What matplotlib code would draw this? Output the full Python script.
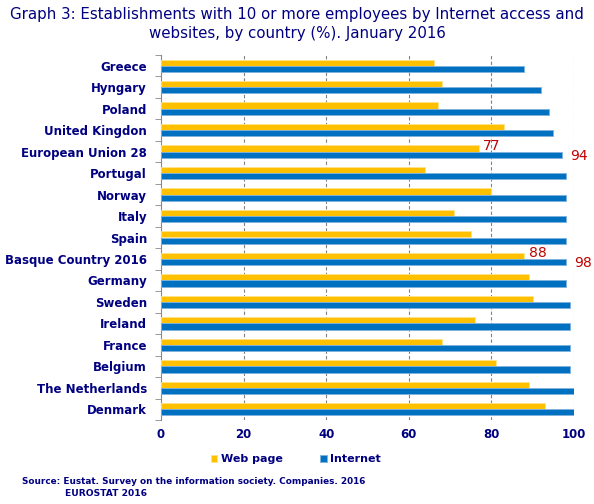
import matplotlib.pyplot as plt
import numpy as np

countries = ['Greece', 'Hyngary', 'Poland', 'United Kingdon', 'European Union 28',
             'Portugal', 'Norway', 'Italy', 'Spain', 'Basque Country 2016',
             'Germany', 'Sweden', 'Ireland', 'France', 'Belgium',
             'The Netherlands', 'Denmark']
web_page = [66, 68, 67, 83, 77, 64, 80, 71, 75, 88, 89, 90, 76, 68, 81, 89, 93]
internet = [88, 92, 94, 95, 97, 98, 98, 98, 98, 98, 98, 99, 99, 99, 99, 100, 100]
# value labels shown in the chart (text as printed)
highlights = {'European Union 28': ('77', '94'), 'Basque Country 2016': ('88', '98')}

navy = '#000080'
yellow = '#FFC000'
blue = '#0070C0'

fig = plt.figure(figsize=(5.94, 5.04), dpi=100)
ax = fig.add_axes([161 / 594, 1 - 420 / 504, (574 - 161) / 594, (420 - 55) / 504])

y = np.arange(len(countries))
h = 0.29
ax.barh(y - h / 2, web_page, height=h, color=yellow, edgecolor='#FFE38A', linewidth=0.6,
        label='Web page', zorder=3)
ax.barh(y + h / 2, internet, height=h, color=blue, edgecolor='#7FB2DD', linewidth=0.6,
        label='Internet', zorder=3)

for i, c in enumerate(countries):
    if c in highlights:
        w, n = highlights[c]
        ax.text(web_page[i] + 1, y[i] - h / 2 - 0.12, w, color='#C00000', fontsize=10,
                ha='left', va='center', zorder=4)
        ax.text(internet[i] + 2, y[i] + h / 2 + 0.05, n, color='#C00000', fontsize=10,
                ha='left', va='center', zorder=4, clip_on=False)

ax.set_xlim(0, 100)
ax.set_ylim(len(countries) - 0.5, -0.5)
ax.set_yticks(y)
ax.set_yticklabels(countries, fontsize=8.5, fontweight='bold', color=navy)
ax.set_yticks(np.arange(-0.5, len(countries)), minor=True)
ax.tick_params(axis='y', which='major', length=0, pad=10)
ax.tick_params(axis='y', which='minor', length=4, color='#888888')
ax.set_xticks([0, 20, 40, 60, 80, 100])
ax.set_xticklabels(['0', '20', '40', '60', '80', '100'], fontsize=8.5,
                   fontweight='bold', color=navy)
ax.tick_params(axis='x', length=0, pad=6)

for v in [20, 40, 60, 80]:
    ax.axvline(v, color='#808080', linestyle=(0, (3, 2)), linewidth=0.8, zorder=1)
ax.axvline(100, color='#C0C0C0', linestyle=(0, (3, 2)), linewidth=0.8, zorder=1)

for s in ['top', 'right', 'bottom']:
    ax.spines[s].set_visible(False)
ax.spines['left'].set_color('#888888')

fig.text(0.5, 1 - 24 / 504, 'Graph 3: Establishments with 10 or more employees by Internet access and\n'
         'websites, by country (%). January 2016', ha='center', va='center',
         fontsize=10.8, color=navy, linespacing=1.3)

fig.legend(loc='center', bbox_to_anchor=(296 / 594, 1 - 459 / 504), ncol=2, frameon=False,
           handlelength=0.6, handleheight=0.6, columnspacing=3.4,
           handletextpad=0.3, prop={'weight': 'bold', 'size': 8})
for t in fig.legends[0].get_texts():
    t.set_color(navy)

fig.text(22 / 594, 1 - 482 / 504, 'Source: Eustat. Survey on the information society. Companies. 2016',
         fontsize=6.4, fontweight='bold', color=navy, va='center')
fig.text(65 / 594, 1 - 494 / 504, 'EUROSTAT 2016',
         fontsize=6.6, fontweight='bold', color=navy, va='center')

fig.savefig('out.png', dpi=100)
